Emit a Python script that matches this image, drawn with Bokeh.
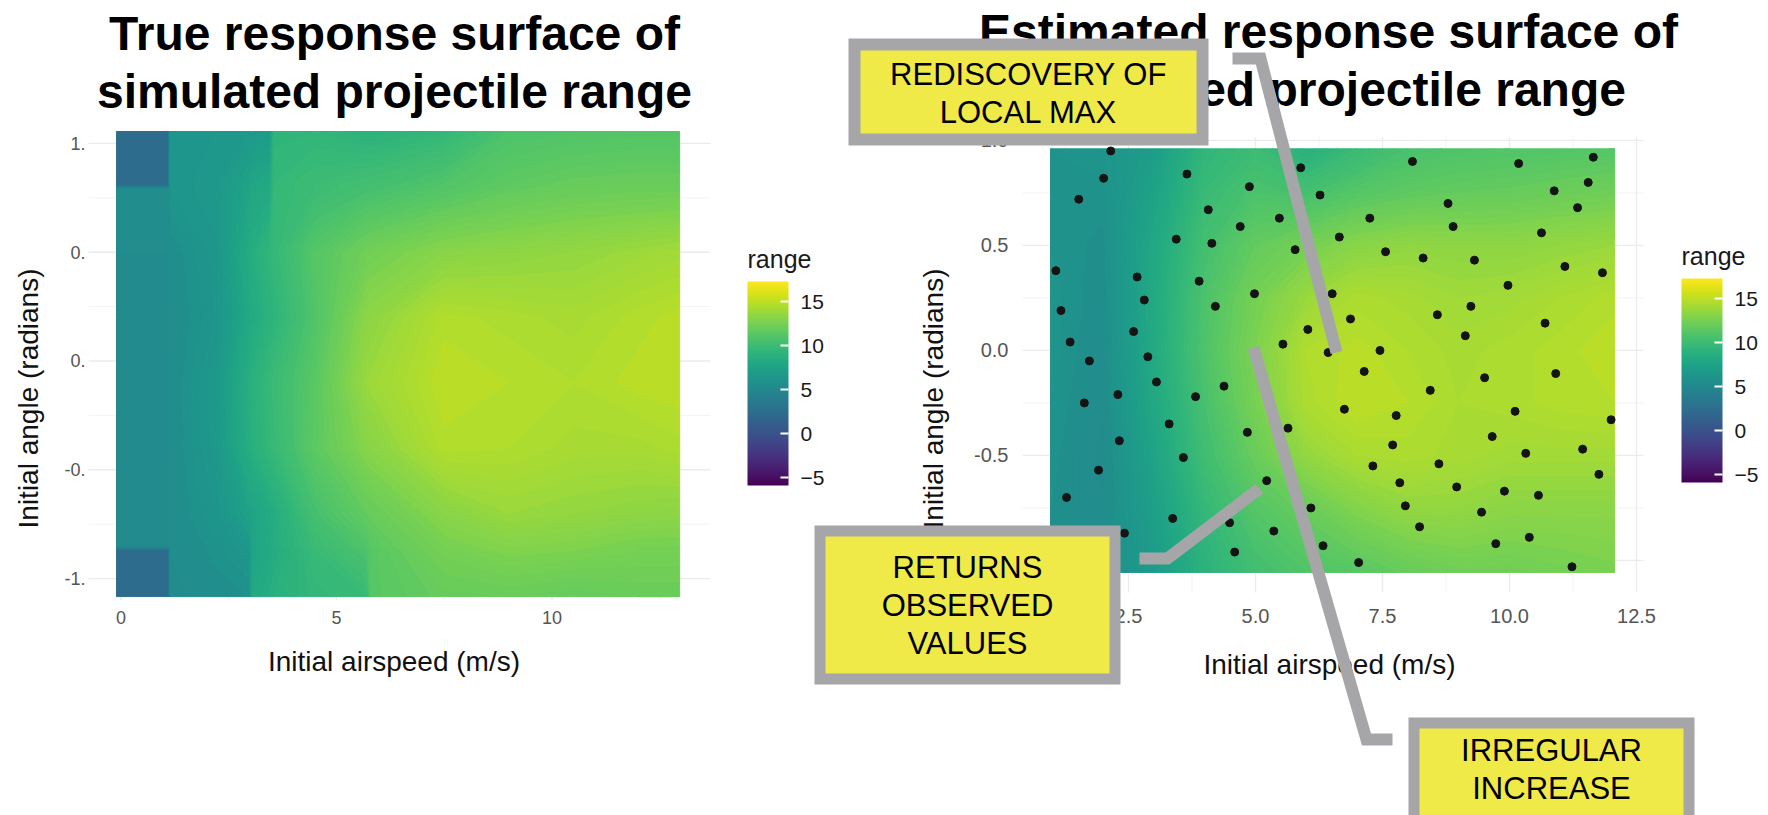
import numpy as np
from bokeh.plotting import figure
from bokeh.layouts import row
from bokeh.models import (Range1d, FixedTicker, ColorBar, LinearColorMapper,
                          BoxAnnotation, Label, PolyAnnotation)
from bokeh.palettes import Viridis256
from bokeh.embed import file_html
from bokeh.resources import INLINE

# ------------------------------------------------------------------ data
# True (simulated) response surface: range at grid nodes (rows = angle, cols = speed)
true_speed = [-0.104, 1.10, 1.14, 2.2, 2.95, 3.05, 3.45, 3.55, 4.5, 5.7, 5.8,
              7.5, 9.0, 10.5, 12.0, 12.96]
true_angle = [-1.083, -0.87, -0.85, -0.7, -0.4, -0.1, 0.2, 0.5, 0.79, 0.81, 1.055]
true_range = [
    [2.3, 2.3, 5.3, 5.6, 5.8, 8.2, 8.6, 8.8, 9.5, 9.8, 11.3, 11.9, 12.0, 11.8, 12.0, 12.0],
    [2.3, 2.3, 5.4, 5.9, 6.3, 7.6, 8.2, 8.4, 9.8, 10.8, 11.3, 12.5, 12.9, 12.8, 12.6, 12.6],
    [5.4, 5.4, 5.5, 5.9, 6.4, 7.7, 8.3, 8.5, 9.9, 11.0, 11.4, 12.6, 13.0, 12.9, 12.6, 12.6],
    [5.4, 5.4, 5.5, 6.2, 7.4, 7.6, 8.3, 8.5, 10.5, 11.8, 11.9, 13.2, 13.8, 13.6, 13.4, 13.3],
    [5.4, 5.4, 5.5, 6.5, 8.5, 8.8, 9.5, 9.7, 11.5, 13.1, 13.2, 14.7, 14.6, 14.3, 14.3, 14.5],
    [5.4, 5.4, 5.5, 6.6, 8.6, 8.9, 9.7, 9.9, 11.4, 13.8, 13.9, 15.0, 14.8, 14.6, 14.9, 15.0],
    [5.4, 5.4, 5.5, 6.2, 8.0, 8.3, 9.0, 9.2, 11.0, 13.3, 13.4, 14.7, 14.5, 14.3, 14.7, 14.9],
    [5.4, 5.4, 5.6, 6.3, 8.3, 8.6, 9.4, 9.6, 11.2, 12.3, 12.4, 13.2, 13.4, 13.6, 13.9, 14.1],
    [5.5, 5.5, 6.2, 6.6, 7.6, 7.9, 8.2, 9.6, 10.0, 10.5, 10.5, 11.1, 11.7, 12.0, 12.1, 12.1],
    [2.3, 2.3, 6.2, 6.6, 7.5, 7.8, 8.1, 9.6, 10.0, 10.4, 10.4, 11.0, 11.6, 11.9, 12.0, 12.0],
    [2.3, 2.3, 6.3, 6.4, 6.6, 6.7, 6.8, 9.3, 9.4, 9.0, 9.0, 9.5, 10.8, 11.0, 11.1, 11.1],
]

# Estimated response surface
est_speed = [0.965, 2.0, 3.0, 4.0, 5.0, 6.0, 7.0, 8.0, 9.0, 10.0, 11.0, 12.07]
est_angle = [-1.057, -0.75, -0.5, -0.25, 0.0, 0.25, 0.5, 0.75, 0.96]
est_range = [
    [5.7, 5.6, 6.8, 9.0, 10.3, 11.0, 11.3, 11.9, 12.3, 12.3, 12.5, 12.7],
    [5.8, 5.4, 7.2, 9.6, 11.2, 12.0, 13.0, 13.6, 13.6, 13.3, 13.3, 13.3],
    [5.9, 5.3, 7.6, 10.2, 12.0, 13.6, 14.4, 14.5, 14.3, 14.1, 14.1, 14.1],
    [6.0, 5.4, 8.0, 10.6, 12.6, 14.5, 15.0, 14.8, 14.4, 14.5, 14.7, 14.8],
    [6.1, 5.5, 8.2, 10.9, 12.8, 14.6, 14.9, 14.6, 14.3, 14.5, 14.7, 15.0],
    [6.1, 5.6, 8.2, 10.8, 12.5, 13.8, 14.5, 14.3, 14.0, 14.1, 14.4, 14.7],
    [6.0, 5.7, 8.0, 10.4, 11.8, 12.5, 13.2, 13.5, 13.4, 13.4, 13.6, 13.8],
    [5.9, 5.9, 7.5, 9.8, 10.8, 10.5, 11.2, 11.6, 11.8, 11.9, 12.1, 12.3],
    [6.0, 6.2, 7.0, 9.4, 10.0, 8.8, 9.8, 10.6, 10.9, 11.0, 11.1, 11.2],
]

# Observed design points
obs_speed = [2.15, 2.01, 1.52, 3.65, 4.88, 4.07, 4.70, 5.47, 3.44, 4.14,
             5.89, 6.27, 5.78, 6.65, 7.25, 8.09, 10.18, 11.65, 11.55, 10.88,
             8.79, 11.34, 8.89, 10.63, 7.56, 8.30, 9.31, 11.09, 11.83, 9.97,
             1.07, 2.67, 3.89, 4.98, 6.51, 1.17, 2.81, 4.21, 8.58, 9.24,
             6.87, 6.03, 10.70, 9.13, 2.60, 1.35, 5.54, 6.43, 7.45, 1.73,
             2.88, 7.14, 9.51, 10.91, 3.05, 4.38, 2.29, 3.82, 8.44, 1.63,
             6.75, 7.77, 10.11, 12.00, 3.30, 4.84, 5.64, 2.32, 7.70, 9.66,
             10.32, 11.44, 3.58, 7.31, 8.61, 1.91, 11.76, 5.22, 7.84, 8.96,
             9.90, 10.57, 1.28, 7.95, 6.09, 9.45, 3.37, 4.49, 2.42, 5.36,
             8.23, 9.73, 10.39, 6.33, 4.59, 7.03, 11.23]
obs_angle = [0.95, 0.82, 0.72, 0.84, 0.78, 0.67, 0.59, 0.63, 0.53, 0.51,
             0.87, 0.74, 0.48, 0.54, 0.63, 0.90, 0.89, 0.92, 0.80, 0.76,
             0.70, 0.68, 0.59, 0.56, 0.47, 0.44, 0.43, 0.40, 0.37, 0.31,
             0.38, 0.35, 0.33, 0.27, 0.27, 0.19, 0.24, 0.21, 0.17, 0.21,
             0.15, 0.10, 0.13, 0.07, 0.09, 0.04, 0.03, -0.01, 0.00, -0.05,
             -0.03, -0.10, -0.13, -0.11, -0.15, -0.17, -0.21, -0.22, -0.19, -0.25,
             -0.28, -0.31, -0.29, -0.33, -0.35, -0.39, -0.37, -0.43, -0.45, -0.41,
             -0.49, -0.47, -0.51, -0.55, -0.54, -0.57, -0.59, -0.62, -0.63, -0.65,
             -0.67, -0.69, -0.70, -0.74, -0.75, -0.77, -0.80, -0.82, -0.87, -0.86,
             -0.84, -0.92, -0.89, -0.93, -0.96, -1.01, -1.03]

range_ticks = [-5, 0, 5, 10, 15]
range_low, range_high = -5.9, 17.3

left_x_ticks = [0, 5, 10]
left_x_minor = [2.5, 7.5, 12.5]
left_y_ticks = [-1.0, -0.5, 0.0, 0.5, 1.0]
left_y_labels = ["-1.", "-0.", "0.", "0.", "1."]
right_x_ticks = [2.5, 5.0, 7.5, 10.0, 12.5]
right_x_labels = ["2.5", "5.0", "7.5", "10.0", "12.5"]
right_x_minor = [1.25, 3.75, 6.25, 8.75, 11.25]
right_y_ticks = [-1.0, -0.5, 0.0, 0.5, 1.0]
right_y_labels = ["-1.0", "-0.5", "0.0", "0.5", "1.0"]
y_minor = [-0.75, -0.25, 0.25, 0.75]

# ------------------------------------------------------------------ styling / geometry
FONT = "Liberation Sans"
GRAY = "#a6a6a9"
YELLOW = "#efea48"
H = 815

mapper = LinearColorMapper(palette=Viridis256, low=range_low, high=range_high)
levels = [round(2.0 + 0.2 * i, 2) for i in range(67)]


def band_color(a, b):
    t = ((a + b) / 2 - range_low) / (range_high - range_low)
    return Viridis256[max(0, min(255, int(round(t * 255))))]


band_colors = [band_color(a, b) for a, b in zip(levels[:-1], levels[1:])]

# panel (ggplot plotting area) in page pixels and its data extent
LEFT = dict(width=740, offset=0, fl=88, fr=710, ft=131, fb=600,
            xr=(-0.754, 13.677), yr=(-1.101, 1.055))
RIGHT = dict(width=1028, offset=740, fl=1022, fr=1643, ft=137, fb=592,
             xr=(0.413, 12.638), yr=(-1.1526, 1.014))


def px2x(g, px):
    x0, x1 = g["xr"]
    return x0 + (px - g["fl"]) * (x1 - x0) / (g["fr"] - g["fl"])


def py2y(g, py):
    y0, y1 = g["yr"]
    return y1 - (py - g["ft"]) * (y1 - y0) / (g["fb"] - g["ft"])


def make_fig(g):
    p = figure(width=g["width"], height=H, title=None,
               x_range=Range1d(px2x(g, g["offset"]), px2x(g, g["offset"] + g["width"])),
               y_range=Range1d(py2y(g, H), py2y(g, 0)),
               output_backend="svg", toolbar_location=None,
               min_border=0, min_border_left=0, min_border_right=0,
               min_border_top=0, min_border_bottom=0)
    p.outline_line_color = None
    p.background_fill_color = "white"
    p.border_fill_color = "white"
    p.xgrid.visible = False
    p.ygrid.visible = False
    return p


def draw_grid(p, g, xt, xm, yt, ym):
    x0, x1 = g["xr"]
    y0, y1 = g["yr"]
    p.segment(x0=xm, x1=xm, y0=[y0] * len(xm), y1=[y1] * len(xm),
              line_color="#f3f3f3", line_width=1, level="underlay")
    p.segment(x0=[x0] * len(ym), x1=[x1] * len(ym), y0=ym, y1=ym,
              line_color="#f3f3f3", line_width=1, level="underlay")
    p.segment(x0=xt, x1=xt, y0=[y0] * len(xt), y1=[y1] * len(xt),
              line_color="#ebebeb", line_width=1.3, level="underlay")
    p.segment(x0=[x0] * len(yt), x1=[x1] * len(yt), y0=yt, y1=yt,
              line_color="#ebebeb", line_width=1.3, level="underlay")


def style_axes(p, g, xt, yt, xlabels, ylabels, tick_size, xs, ys, xls, yls, xb, yb):
    p.xaxis.ticker = FixedTicker(ticks=xt)
    p.yaxis.ticker = FixedTicker(ticks=yt)
    p.xaxis.major_label_overrides = {t: s for t, s in zip(xt, xlabels)}
    p.yaxis.major_label_overrides = {t: s for t, s in zip(yt, ylabels)}
    p.xaxis.fixed_location = g["yr"][0]
    p.yaxis.fixed_location = g["xr"][0]
    p.xaxis.bounds = (px2x(g, xb[0]), px2x(g, xb[1]))
    p.yaxis.bounds = (py2y(g, yb[1]), py2y(g, yb[0]))
    for ax in (p.xaxis, p.yaxis):
        ax.axis_line_color = None
        ax.major_tick_line_color = None
        ax.minor_tick_line_color = None
        ax.major_tick_in = 0
        ax.major_tick_out = 0
        ax.minor_tick_in = 0
        ax.minor_tick_out = 0
        ax.major_label_text_font = FONT
        ax.major_label_text_font_size = tick_size
        ax.major_label_text_color = "#555555"
        ax.axis_label_text_font = FONT
        ax.axis_label_text_font_size = "28px"
        ax.axis_label_text_font_style = "normal"
        ax.axis_label_text_color = "#111111"
    p.xaxis.axis_label = "Initial airspeed (m/s)"
    p.yaxis.axis_label = "Initial angle (radians)"
    p.xaxis.major_label_standoff = xs
    p.yaxis.major_label_standoff = ys
    p.xaxis.axis_label_standoff = xls
    p.yaxis.axis_label_standoff = yls


def add_colorbar(p, g, bar_left, bar_bottom, title_y):
    cb = ColorBar(color_mapper=mapper, ticker=FixedTicker(ticks=range_ticks),
                  width=41, height=204,
                  location=(bar_left - g["offset"], H - bar_bottom), padding=0,
                  major_label_text_font=FONT, major_label_text_font_size="21px",
                  major_label_text_color="#1a1a1a", label_standoff=12,
                  major_tick_line_color="white", major_tick_line_width=2,
                  major_tick_in=8, major_tick_out=0,
                  minor_tick_line_color=None, bar_line_color=None,
                  border_line_color=None, background_fill_color=None)
    p.add_layout(cb)
    p.add_layout(Label(x=px2x(g, bar_left), y=py2y(g, title_y), text="range",
                       text_align="left", text_baseline="middle",
                       text_font=FONT, text_font_size="25px", text_color="#1a1a1a"))


def add_title(p, g, cx, cy, text):
    p.add_layout(Label(x=px2x(g, cx), y=py2y(g, cy), text=text,
                       text_align="center", text_baseline="middle",
                       text_font=FONT, text_font_size="48px", text_font_style="bold",
                       text_color="black", text_line_height=1.08))


def callout_box(p, g, l, t, r, b, border):
    p.add_layout(BoxAnnotation(left=px2x(g, l), right=px2x(g, r),
                               top=py2y(g, t), bottom=py2y(g, b),
                               fill_color=GRAY, fill_alpha=1, line_color=None,
                               level="overlay"))
    p.add_layout(BoxAnnotation(left=px2x(g, l + border), right=px2x(g, r - border),
                               top=py2y(g, t + border), bottom=py2y(g, b - border),
                               fill_color=YELLOW, fill_alpha=1, line_color=None,
                               level="overlay"))


def connector(p, g, pts):
    path = pts + pts[-2:0:-1]
    p.add_layout(PolyAnnotation(xs=[px2x(g, a) for a, _ in path],
                                ys=[py2y(g, b) for _, b in path],
                                fill_color=None, fill_alpha=0,
                                line_color=GRAY, line_alpha=1, line_width=12,
                                line_join="miter", level="overlay"))


def callout_text(p, g, cx, cy, text):
    p.add_layout(Label(x=px2x(g, cx), y=py2y(g, cy), text=text,
                       text_align="center", text_baseline="middle",
                       text_font=FONT, text_font_size="31px", text_color="black",
                       text_line_height=1.09, level="overlay"))


def surface(p, xs, ys, zs):
    cr = p.contour(x=xs, y=ys, z=np.array(zs), levels=levels,
                   fill_color=band_colors, line_color=None)
    glyph = cr.fill_renderer.glyph
    glyph.line_color = glyph.fill_color
    glyph.line_width = 1.0
    glyph.line_alpha = 1.0


# ------------------------------------------------------------------ left panel
pl = make_fig(LEFT)
draw_grid(pl, LEFT, left_x_ticks, left_x_minor, left_y_ticks, y_minor)
surface(pl, true_speed, true_angle, true_range)
style_axes(pl, LEFT, left_x_ticks, left_y_ticks, [str(t) for t in left_x_ticks],
           left_y_labels, "18px", 10, 3, 19, 17, (88, 699), (140, 656))
add_title(pl, LEFT, 394, 62, "True response surface of\nsimulated projectile range")

# ------------------------------------------------------------------ right panel
pr = make_fig(RIGHT)
draw_grid(pr, RIGHT, right_x_ticks, right_x_minor, right_y_ticks, y_minor)
surface(pr, est_speed, est_angle, est_range)
pr.scatter(obs_speed, obs_angle, size=8, color="#141414")
style_axes(pr, RIGHT, right_x_ticks, right_y_ticks, right_x_labels, right_y_labels,
           "20px", 16, 14, 23, 22, (1018, 1640), (138, 658))
# colour bars of both panels (the left one sits in this canvas, beside the left panel)
add_colorbar(pr, RIGHT, 747, 485, 258)
add_colorbar(pr, RIGHT, 1681, 482, 255)
add_title(pr, RIGHT, 1328, 60, "Estimated response surface of\nsimulated projectile range")

connector(pr, RIGHT, [(1232, 58), (1260, 58), (1336, 352)])
connector(pr, RIGHT, [(1139, 558), (1167, 558), (1259, 488)])
connector(pr, RIGHT, [(1392, 739), (1366, 739), (1253, 347)])

callout_box(pr, RIGHT, 848, 38, 1208, 145, 12)
callout_box(pr, RIGHT, 814, 525, 1120, 684, 11)
callout_box(pr, RIGHT, 1408, 717, 1694, 840, 11)

callout_text(pr, RIGHT, 1028, 93, "REDISCOVERY OF\nLOCAL MAX")
callout_text(pr, RIGHT, 967, 605, "RETURNS\nOBSERVED\nVALUES")
callout_text(pr, RIGHT, 1551, 769, "IRREGULAR\nINCREASE")

layout = row(pl, pr)
open("out.html", "w").write(file_html(layout, INLINE))
